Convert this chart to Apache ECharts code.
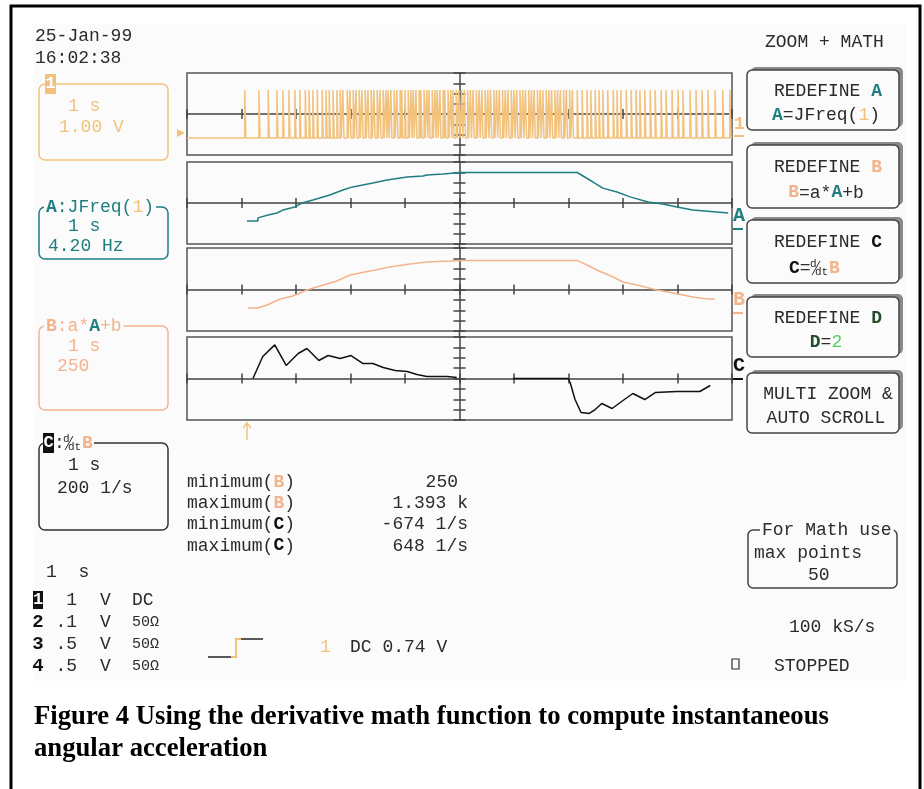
<!DOCTYPE html>
<html>
<head>
<meta charset="utf-8">
<script src="https://cdn.jsdelivr.net/npm/echarts@6/dist/echarts.min.js"></script>
<style>
  html, body { margin: 0; padding: 0; background: #fff; }
  #wrap { position: relative; width: 924px; height: 789px; }
  #screen { position: absolute; left: 33px; top: 24px; width: 872px; height: 657px; background: #fbfbfb; }
  #chart { position: absolute; left: 0; top: 0; width: 924px; height: 789px; }
</style>
</head>
<body>
<div id="wrap"><div id="screen"></div><div id="chart"></div></div>
<script>
// time in seconds from the screen centre, 1 s / div
// channel 1: pulse start times (s)
const pulseTimes = [
  -3.94, -3.68, -3.51, -3.35, -3.24, -3.13, -3.02, -2.93, -2.83, -2.76, -2.69, -2.61,
  -2.52, -2.45, -2.39, -2.32, -2.25, -2.19, -2.14, -2.06, -2.01, -1.95, -1.90, -1.84,
  -1.79, -1.73, -1.68, -1.62, -1.57, -1.51, -1.46, -1.40, -1.35, -1.31, -1.26, -1.20,
  -1.15, -1.09, -1.06, -1.00, -0.94, -0.89, -0.85, -0.80, -0.74, -0.71, -0.65, -0.60,
  -0.56, -0.50, -0.45, -0.41, -0.36, -0.30, -0.27, -0.21, -0.16, -0.12, -0.06, -0.01,
  0.04, 0.09, 0.15, 0.20, 0.25, 0.31, 0.36, 0.41, 0.47, 0.52, 0.57, 0.63, 0.68, 0.73,
  0.79, 0.84, 0.89, 0.95, 1.00, 1.05, 1.11, 1.16, 1.21, 1.27, 1.32, 1.37, 1.43, 1.48,
  1.53, 1.59, 1.64, 1.69, 1.75, 1.80, 1.85, 1.91, 1.96, 2.02, 2.07,
  2.16, 2.25, 2.34, 2.41, 2.49, 2.56, 2.63, 2.72, 2.82, 2.89, 2.96, 3.06, 3.15, 3.24,
  3.31, 3.40, 3.50, 3.59, 3.70, 3.79, 3.90, 4.01, 4.10, 4.23, 4.34, 4.45, 4.56, 4.69,
  4.83, 4.96
];
const ch1Low = -2.34;   // V
const ch1High = 2.34;   // V
const pulseWidth = 0.02; // s

// A = JFreq(1), Hz
const timesA = [-3.90, -3.70, -3.70, -3.51, -3.35, -3.24, -3.02, -2.89, -2.69, -2.38, -2.14, -1.96,
  -1.59, -1.33, -0.96, -0.67, -0.60, -0.30, 0, 2.16, 2.45, 2.63, 2.89, 3.13, 3.46, 3.73, 3.99, 4.28, 4.72, 4.93];
const valuesA = [2.6, 2.6, 3.9, 5.1, 5.9, 7.1, 8.4, 10.0, 11.2, 13.3, 15.3, 16.6,
  18.2, 19.4, 20.7, 21.1, 21.5, 21.9, 22.5, 22.5, 18.6, 16.1, 14.5, 12.5, 10.4, 9.6, 8.4, 7.1, 6.3, 5.9];

// B = a*A+b
const timesB = [-3.88, -3.70, -3.53, -3.29, -3.06, -2.80, -2.50, -2.25, -2.01, -1.64, -1.28, -0.91,
  -0.60, -0.17, 0, 2.16, 2.34, 2.52, 2.82, 3.00, 3.26, 3.62, 3.92, 4.28, 4.55, 4.69];
const valuesB = [250, 250, 322, 467, 539, 684, 805, 901, 1046, 1142, 1238, 1311,
  1359, 1383, 1393, 1393, 1287, 1166, 997, 877, 805, 684, 612, 515, 467, 467];

// C = dB/dt, 1/s  (null = no trace drawn)
const timesC = [-3.79, -3.61, -3.39, -3.18, -2.96, -2.80, -2.58, -2.41, -2.19, -1.99, -1.77, -1.59,
  -1.40, -1.18, -0.96, -0.78, -0.60, -0.23, -0.05, 0.45, 0.98, 1.99, 2.03, 2.12, 2.23, 2.38,
  2.49, 2.61, 2.80, 3.00, 3.18, 3.40, 3.59, 3.99, 4.41, 4.60];
const valuesC = [0, 424, 648, 251, 482, 578, 347, 443, 386, 443, 289, 289,
  212, 154, 135, 77, 39, 39, 19, null, 0, 0, -77, -405, -655, -674,
  -598, -482, -578, -424, -289, -405, -270, -251, -251, -135];

const statLabels = ['minimum(', 'maximum(', 'minimum(', 'maximum('];
const statTraces = ['B', 'B', 'C', 'C'];
const statValues = ['250', '1.393 k', '-674 1/s', '648 1/s'];

const ORANGE = '#f2c27c', TEAL = '#1f7e80', SALMON = '#f3b48c', INK = '#2b2b2b', BG = '#fbfbfb';
const FONT = '"Liberation Mono", "DejaVu Sans Mono", monospace';

const chart = echarts.init(document.getElementById('chart'));

const panels = [
  { top: 73,  height: 82, min: -4, max: 4 },
  { top: 162, height: 82, min: 10 - 4 * 4.2, max: 10 + 4 * 4.2 },
  { top: 248, height: 83, min: 696 - 1000, max: 696 + 1000 },
  { top: 337, height: 83, min: -800, max: 800 }
];

const grid = [], xAxis = [], yAxis = [];
panels.forEach((p, i) => {
  grid.push({ left: 187, top: p.top, width: 545, height: p.height, show: true,
    borderColor: '#555', borderWidth: 1.5, backgroundColor: 'transparent' });
  const xTick = { show: true, length: 5, lineStyle: { color: '#444', width: 1.5 } };
  const yTick = { show: true, length: 6, lineStyle: { color: '#444', width: 1.5 } };
  ['bottom', 'top'].forEach((pos, k) => {
    xAxis.push({ gridIndex: i, type: 'value', min: -5, max: 5, interval: 1, position: pos,
      offset: -p.height / 2,
      axisLine: { show: k === 0, onZero: false, lineStyle: { color: '#444', width: 1.5 } },
      axisTick: xTick, axisLabel: { show: false }, splitLine: { show: false } });
  });
  yAxis.push({ gridIndex: i, type: 'value', min: p.min, max: p.max, show: false,
    axisLine: { onZero: false }, splitLine: { show: false } });
  ['left', 'right'].forEach((pos, k) => {
    yAxis.push({ gridIndex: i, type: 'value', min: -4, max: 4, interval: 1, position: pos,
      axisLine: { show: k === 0, onZero: true, onZeroAxisIndex: i * 2, lineStyle: { color: '#444', width: 1.5 } },
      axisTick: yTick, axisLabel: { show: false }, splitLine: { show: false } });
  });
});

const ch1Data = [[-5, ch1Low]];
pulseTimes.forEach(t => {
  ch1Data.push([t, ch1Low], [t, ch1High], [t + pulseWidth, ch1High], [t + pulseWidth, ch1Low]);
});
ch1Data.push([5, ch1Low]);

const zip = (ts, vs) => ts.map((t, i) => [t, vs[i] === null ? '-' : vs[i]]);

function line(idx, data, color, w) {
  return { type: 'line', xAxisIndex: idx * 2, yAxisIndex: idx * 3, data, showSymbol: false,
    symbol: 'none', animation: false, lineStyle: { color, width: w }, z: 5 };
}

// ---- text helpers
function txt(x, y, text, o) {
  o = o || {};
  return { type: 'text', x, y, z: 20, style: {
    text, font: o.font || ('18px ' + FONT), fill: o.fill || INK,
    align: o.align || 'left', textAlign: o.align || 'left',
    verticalAlign: 'middle', textVerticalAlign: 'middle',
    rich: o.rich, backgroundColor: o.bg, padding: o.pad } };
}
const rich = {
  A: { fill: TEAL, font: 'bold 18px ' + FONT },
  B: { fill: SALMON, font: 'bold 18px ' + FONT },
  C: { fill: '#111', font: 'bold 18px ' + FONT },
  D: { fill: '#224d2c', font: 'bold 18px ' + FONT },
  o: { fill: ORANGE, font: '18px ' + FONT },
  g: { fill: '#55d060', font: '18px ' + FONT },
  k: { fill: INK, font: '18px ' + FONT }
};
function rect(x, y, w, h, o) {
  return { type: 'rect', z: o.z || 10, shape: { x, y, width: w, height: h, r: o.r || 0 },
    style: { fill: o.fill || 'none', stroke: o.stroke || null, lineWidth: o.lw || 1.5 } };
}
function seg(pts, color, w) {
  return { type: 'polyline', z: 12, shape: { points: pts }, style: { stroke: color, lineWidth: w || 1.5, fill: null } };
}
// small d/dt fraction, left edge x, centre y
function frac(x, y) {
  const f = '11px ' + FONT;
  return [
    txt(x + 1, y - 4, 'd', { font: f }),
    seg([[x + 3, y + 7], [x + 11, y - 7]], INK, 1),
    txt(x + 6, y + 4, 'dt', { font: f })
  ];
}

const g = [];
// page frame
g.push(rect(11, 6, 909, 790, { stroke: '#000', lw: 3, z: 1 }));

// header
g.push(txt(35, 36, '25-Jan-99'));
g.push(txt(35, 58, '16:02:38'));
g.push(txt(765, 42, 'ZOOM + MATH'));

// left trace boxes
g.push(rect(39, 84, 129, 76, { stroke: ORANGE, r: 6 }));
g.push(rect(45, 74, 11, 20, { fill: ORANGE, z: 15 }));
g.push(txt(50.5, 84, '1', { fill: '#fff', align: 'center', font: 'bold 17px ' + FONT }));
g.push(txt(68, 106, '1 s', { fill: ORANGE }));
g.push(txt(59, 127, '1.00 V', { fill: ORANGE }));

g.push(rect(39, 207, 129, 52, { stroke: TEAL, r: 6 }));
g.push(txt(44, 207, '{A|A}:JFreq({o|1})', { fill: TEAL, bg: BG, pad: [0, 2], rich }));
g.push(txt(68, 226, '1 s', { fill: TEAL }));
g.push(txt(48, 246, '4.20 Hz', { fill: TEAL }));

g.push(rect(39, 326, 129, 84, { stroke: SALMON, r: 6 }));
g.push(txt(44, 326, '{B|B}:a*{A|A}+b', { fill: SALMON, bg: BG, pad: [0, 2], rich }));
g.push(txt(68, 346, '1 s', { fill: SALMON }));
g.push(txt(57, 366, '250', { fill: SALMON }));

g.push(rect(39, 443, 129, 87, { stroke: '#333', r: 6 }));
g.push(rect(54, 434, 40, 18, { fill: BG, z: 11 }));
g.push(rect(43, 433, 11, 20, { fill: '#111', z: 15 }));
g.push(txt(48.5, 443, 'C', { fill: '#fff', align: 'center', font: 'bold 17px ' + FONT }));
g.push(txt(54, 443, ':'));
g.push(...frac(62, 443));
g.push(txt(82, 443, 'B', { fill: SALMON, font: 'bold 18px ' + FONT }));
g.push(txt(68, 465, '1 s'));
g.push(txt(57, 488, '200 1/s'));

// right side of traces
g.push(txt(734, 124, '1', { fill: ORANGE, font: 'bold 18px ' + FONT }));
g.push(seg([[734, 136], [744, 136]], ORANGE, 2));
g.push(txt(733, 216, 'A', { fill: TEAL, font: 'bold 20px ' + FONT }));
g.push(seg([[733, 229], [743, 229]], TEAL, 2));
g.push(txt(733, 300, 'B', { fill: SALMON, font: 'bold 20px ' + FONT }));
g.push(seg([[733, 313], [743, 313]], SALMON, 2));
g.push(txt(733, 366, 'C', { fill: '#111', font: 'bold 20px ' + FONT }));
g.push(seg([[733, 379], [743, 379]], '#111', 2));

// channel 1 level marker and trigger arrow
g.push({ type: 'polygon', z: 12, shape: { points: [[177, 129], [185, 133], [177, 137]] }, style: { fill: ORANGE } });
g.push(seg([[247, 440], [247, 423]], ORANGE, 1.5));
g.push(seg([[243, 428], [247, 423], [251, 428]], ORANGE, 1.5));

// centre line through panel gaps
[[155, 162], [244, 248], [331, 337]].forEach(r => g.push(seg([[459.5, r[0]], [459.5, r[1]]], '#444', 1.5)));

// menu buttons
const btnTops = [70, 145, 220, 297, 373];
const btnHeights = [60, 63, 63, 60, 60];
const btnLines = [
  ['REDEFINE {A|A}', '{A|A}=JFreq({o|1})'],
  ['REDEFINE {B|B}', '{B|B}=a*{A|A}+b'],
  ['REDEFINE {C|C}', null],
  ['REDEFINE {D|D}', '{D|D}={g|2}'],
  ['MULTI ZOOM &', 'AUTO SCROLL']
];
btnTops.forEach((t, i) => {
  const h = btnHeights[i];
  g.push(rect(751, t - 3, 152, h, { fill: '#8a8a8a', r: 5, z: 8 }));
  g.push(rect(747, t, 152, h, { fill: BG, stroke: '#444', r: 5, z: 9 }));
  g.push(txt(828, t + h * 0.36, btnLines[i][0], { align: 'center', rich }));
  if (btnLines[i][1]) g.push(txt(826, t + h * 0.76, btnLines[i][1], { align: 'center', rich }));
});
// C = d/dt B on the third button
g.push(txt(789, 268, '{C|C}=', { rich }));
g.push(...frac(809, 268));
g.push(txt(829, 268, 'B', { fill: SALMON, font: 'bold 18px ' + FONT }));

// measurements
statLabels.forEach((l, i) => {
  const y = 482 + i * 21.3;
  g.push(txt(187, y, l + '{' + statTraces[i] + '|' + statTraces[i] + '})', { rich }));
  g.push(txt(i === 0 ? 458 : 468, y, statValues[i], { align: 'right' }));
});

// timebase and channel list
g.push(txt(46, 572, '1  s'));
const chNames = ['1', '2', '3', '4'];
const chVolts = ['1', '.1', '.5', '.5'];
const chCoupling = ['DC', '50\u03a9', '50\u03a9', '50\u03a9'];
chNames.forEach((n, i) => {
  const y = 600 + i * 22;
  if (i === 0) {
    g.push(rect(33, y - 9, 10, 18, { fill: '#111', z: 15 }));
    g.push(txt(38, y, n, { fill: '#fff', align: 'center', font: 'bold 17px ' + FONT }));
  } else {
    g.push(txt(38, y, n, { align: 'center', font: 'bold 19px ' + FONT, fill: '#111' }));
  }
  g.push(txt(77, y, chVolts[i], { align: 'right' }));
  g.push(txt(100, y, 'V'));
  g.push(txt(132, y, chCoupling[i], { font: (i === 0 ? '18px ' : '15px ') + FONT }));
});

// trigger symbol
g.push(seg([[208, 657], [231, 657]], '#222', 1.5));
g.push(seg([[231, 657], [236, 657], [236, 639], [241, 639]], ORANGE, 2));
g.push(seg([[241, 639], [263, 639]], '#222', 1.5));
g.push(txt(320, 647, '1', { fill: ORANGE }));
g.push(txt(350, 647, 'DC 0.74 V'));

// math points box
g.push(rect(748, 530, 149, 58, { stroke: '#444', r: 5 }));
g.push(txt(760, 530, 'For Math use', { bg: BG, pad: [0, 2] }));
g.push(txt(754, 553, 'max points'));
g.push(txt(808, 575, '50'));
g.push(txt(789, 627, '100 kS/s'));
g.push(rect(732, 659, 7, 10, { stroke: '#333', lw: 1.2 }));
g.push(txt(774, 666, 'STOPPED'));

// caption
const capFont = 'bold 26.7px "Liberation Serif", "Times New Roman", serif';
g.push(txt(34, 717, 'Figure 4 Using the derivative math function to compute instantaneous', { font: capFont, fill: '#000' }));
g.push(txt(34, 749, 'angular acceleration', { font: capFont, fill: '#000' }));

chart.setOption({
  animation: false,
  backgroundColor: 'transparent',
  grid, xAxis, yAxis,
  series: [
    line(0, ch1Data, ORANGE, 1.5),
    line(1, zip(timesA, valuesA), TEAL, 1.5),
    line(2, zip(timesB, valuesB), SALMON, 1.5),
    line(3, zip(timesC, valuesC), '#111', 1.5)
  ],
  graphic: { elements: g }
});
</script>
</body>
</html>
